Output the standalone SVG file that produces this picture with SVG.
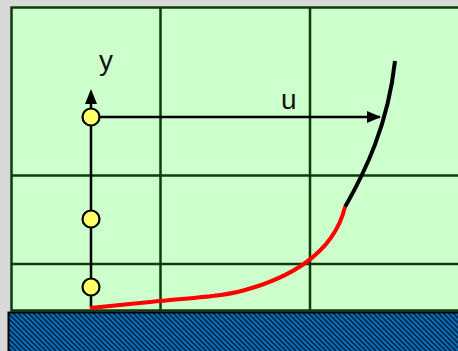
<svg xmlns="http://www.w3.org/2000/svg" width="458" height="351" viewBox="0 0 458 351">
<defs>
<pattern id="hatch" patternUnits="userSpaceOnUse" width="5" height="5">
<rect width="5" height="5" fill="#0070c0"/>
<path d="M-1,-1 L6,6 M-1,4 L1,6 M4,-1 L6,1" stroke="#0a1a2a" stroke-width="1.4"/>
</pattern>
<marker id="ah" markerWidth="14" markerHeight="12" refX="13" refY="6" orient="auto" markerUnits="userSpaceOnUse">
<path d="M0,0 L14,6 L0,12 Z" fill="#000"/>
</marker>
</defs>
<style>
.grid{stroke:#0b3d0b;stroke-width:2.5;fill:none}
.axis{stroke:#000;stroke-width:2.5;fill:none}
.pt{fill:#ffff66;stroke:#000;stroke-width:2.2}
.lbl{font-family:"Liberation Sans",Arial,sans-serif;font-size:28px;fill:#111}
</style>
<rect width="458" height="351" fill="#d9d9d9"/>
<g id="panel">
<rect x="11.5" y="7.5" width="450" height="303" fill="#ccffcc" stroke="#0b3d0b" stroke-width="2.5"/>
<line class="grid" x1="160.5" y1="7" x2="160.5" y2="311"/>
<line class="grid" x1="310" y1="7" x2="310" y2="311"/>
<line class="grid" x1="11" y1="175.5" x2="458" y2="175.5"/>
<line class="grid" x1="11" y1="264" x2="458" y2="264"/>
</g>
<g id="ground">
<rect x="8.5" y="312.5" width="452" height="42" fill="url(#hatch)" stroke="#000" stroke-width="2"/>
</g>
<g id="connectors">
<line class="axis" x1="91" y1="308" x2="91" y2="102"/>
<path d="M91,89 L97,104 L85,104 Z" fill="#000"/>
<line class="axis" x1="91" y1="117" x2="380" y2="117" marker-end="url(#ah)"/>
<path d="M345,207 C365,172 388,125 395,61" stroke="#000" stroke-width="4" fill="none"/>
<path d="M90,308 L150,302 C200,297 225,296 245,290 C285,279 333,256 345,207" stroke="#ff0000" stroke-width="4" fill="none"/>
</g>
<g id="points">
<circle class="pt" cx="91" cy="117" r="8.5"/>
<circle class="pt" cx="91" cy="219" r="8.5"/>
<circle class="pt" cx="91" cy="287" r="8.5"/>
</g>
<g id="labels">
<text class="lbl" x="99" y="70">y</text>
<text class="lbl" x="281" y="109">u</text>
</g>
</svg>
